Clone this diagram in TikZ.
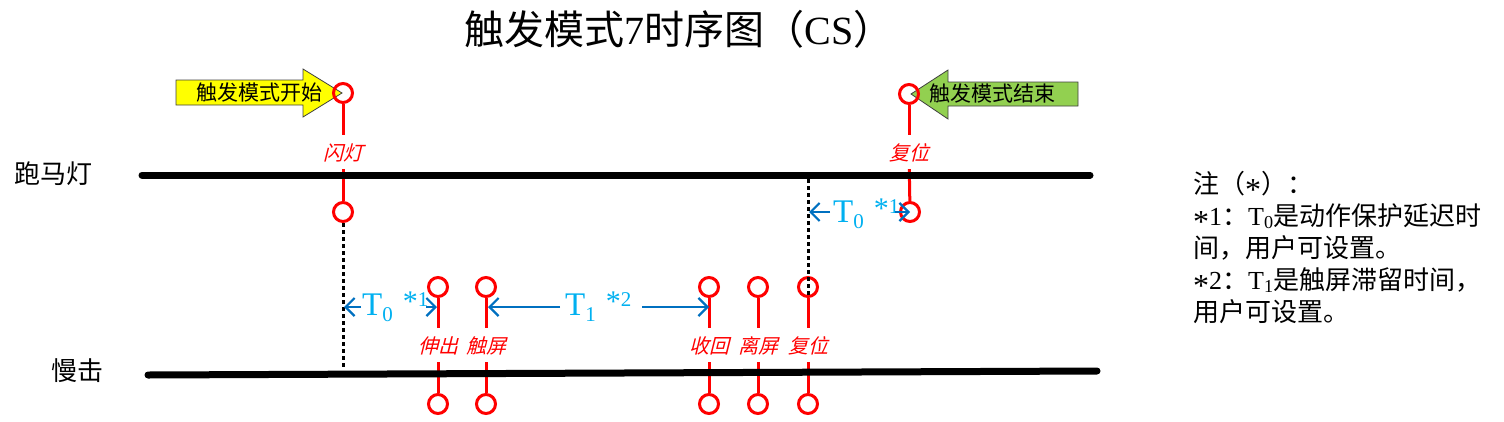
\documentclass[tikz,border=0pt]{standalone}
\usepackage{fontspec}
\setmainfont{Liberation Serif}
\newfontfamily\cjk{Noto Sans CJK SC}
\newfontfamily\cjki[FakeSlant=0.25]{Noto Sans CJK SC}
\usetikzlibrary{arrows.meta}
\definecolor{rd}{RGB}{255,0,0}
\definecolor{barrow}{RGB}{0,112,192}
\definecolor{btext}{RGB}{0,176,240}
\definecolor{ylw}{RGB}{255,255,0}
\definecolor{grn}{RGB}{146,208,80}
\newcommand{\tlab}[2]{\fontsize{33}{33}\selectfont T\raisebox{-6pt}{\fontsize{21}{21}\selectfont #1}\hspace{10pt}\raisebox{9pt}{\fontsize{21}{21}\selectfont\raisebox{-5pt}[0pt][0pt]{\fontsize{30}{30}\selectfont *}#2}}
\newcommand{\myast}{\raisebox{-7pt}[0pt][0pt]{\rmfamily\fontsize{32}{32}\selectfont *}}
\begin{document}
\begin{tikzpicture}[x=1pt,y=-1pt,
  pin/.style={circle,draw=rd,line width=3pt,minimum size=19pt,inner sep=0pt},
  rl/.style={draw=rd,line width=3pt},
  lab/.style={text=rd,font=\cjki\fontsize{20}{20}\selectfont,inner xsep=0pt,inner ysep=7.5pt,text height=18pt,text depth=1pt},
  bar/.style={line width=7pt,line cap=round},
  dots/.style={line width=3pt,dash pattern=on 3.5pt off 3.5pt},
  barr/.style={draw=barrow,line width=2.2pt,-{Straight Barb[length=9pt,width=18pt,line width=2.2pt]}},
  tl/.style={text=btext,inner sep=0pt,anchor=base west},
  sig/.style={font=\cjk\fontsize{26}{26}\selectfont,inner sep=0pt},
  note/.style={font=\cjk\fontsize{26}{26}\selectfont,inner sep=0pt,anchor=base west},
  arrowbox/.style={draw=black!75,line width=0.8pt},
  arrowtext/.style={font=\cjk\fontsize{21}{21}\selectfont,inner sep=0pt}]
\useasboundingbox (0,0) rectangle (1504,421);
% title
\node[inner sep=0pt] (title) at (679,29) {\fontsize{40}{40}\selectfont{\cjk 触发模式}7{\cjk 时序图（}CS{\cjk ）}};
% signal names
\node[sig] (pml) at (53,174) {跑马灯};
\node[sig] (mj) at (77,371) {慢击};
% big arrows
\draw[arrowbox,fill=ylw] (176,80) -- (303,80) -- (303,69) -- (342,93) -- (303,117) -- (303,105) -- (176,105) -- cycle;
\node[arrowtext] (start) at (259,93) {触发模式开始};
\draw[arrowbox,fill=grn] (1078,82) -- (948,82) -- (948,70) -- (911,94) -- (948,119) -- (948,106) -- (1078,106) -- cycle;
\node[arrowtext] (end) at (992,94) {触发模式结束};
% red markers: top signal
\node[pin] (A1) at (343,93) {};
\node[lab] (LA) at (343,152) {闪灯};
\node[pin] (A2) at (343,212) {};
\draw[rl] (A1) -- (LA);
\draw[rl] (LA) -- (A2);
\node[pin] (B1) at (909,94) {};
\node[lab] (LB) at (909,152) {复位};
\node[pin] (B2) at (910,212) {};
\draw[rl] (B1) -- (LB);
\draw[rl] (LB) -- (B2);
% red markers: bottom signal
\foreach \x/\n/\t in {438/1/伸出,486/2/触屏,709/3/收回,758/4/离屏,808/5/复位}{
  \node[pin] (P\n) at (\x,287) {};
  \node[lab] (Q\n) at (\x,345) {\t};
  \node[pin] (R\n) at (\x,404) {};
  \draw[rl] (P\n) -- (Q\n);
  \draw[rl] (Q\n) -- (R\n);
}
% timelines
\coordinate (tl1a) at (142,175);
\coordinate (tl1b) at (1090,175);
\coordinate (tl2a) at (148,375);
\coordinate (tl2b) at (1097,371);
\draw[bar] (tl1a) -- (tl1b);
\draw[bar] (tl2a) -- (tl2b);
% dotted guides
\coordinate (dl1) at (343,370);
\draw[dots] (A2) -- (dl1);
\coordinate (dt2) at (808,179);
\coordinate (db2) at (808,295);
\draw[dots] (dt2) -- (db2);
% timing labels
\node[tl] (T0a) at (833,222) {\tlab{0}{1}};
\node[tl] (T0b) at (362,315) {\tlab{0}{1}};
\node[tl] (T1) at (565,315) {\tlab{1}{2}};
% timing arrows
\coordinate (d1) at (809,212);
\coordinate (a1s) at (830,212);
\coordinate (a2s) at (895,212);
\draw[barr] (a1s) -- (d1);
\draw[barr] (a2s) -- (B2.center);
\coordinate (d2) at (344,307);
\coordinate (b1s) at (361,307);
\coordinate (b2s) at (426,307);
\coordinate (b2e) at (437,307);
\draw[barr] (b1s) -- (d2);
\draw[barr] (b2s) -- (b2e);
\coordinate (c1s) at (560,307);
\coordinate (c1e) at (488,307);
\coordinate (c2s) at (642,307);
\coordinate (c2e) at (709,307);
\draw[barr] (c1s) -- (c1e);
\draw[barr] (c2s) -- (c2e);
% notes
\node[note] (n1) at (1193,193) {注（\myast）：};
\node[note] (n2) at (1193,225) {{\rmfamily\myast1}：{\rmfamily T\textsubscript{0}}是动作保护延迟时};
\node[note] (n3) at (1193,257) {间，用户可设置。};
\node[note] (n4) at (1193,289) {{\rmfamily\myast2}：{\rmfamily T\textsubscript{1}}是触屏滞留时间，};
\node[note] (n5) at (1193,321) {用户可设置。};
\end{tikzpicture}
\end{document}
